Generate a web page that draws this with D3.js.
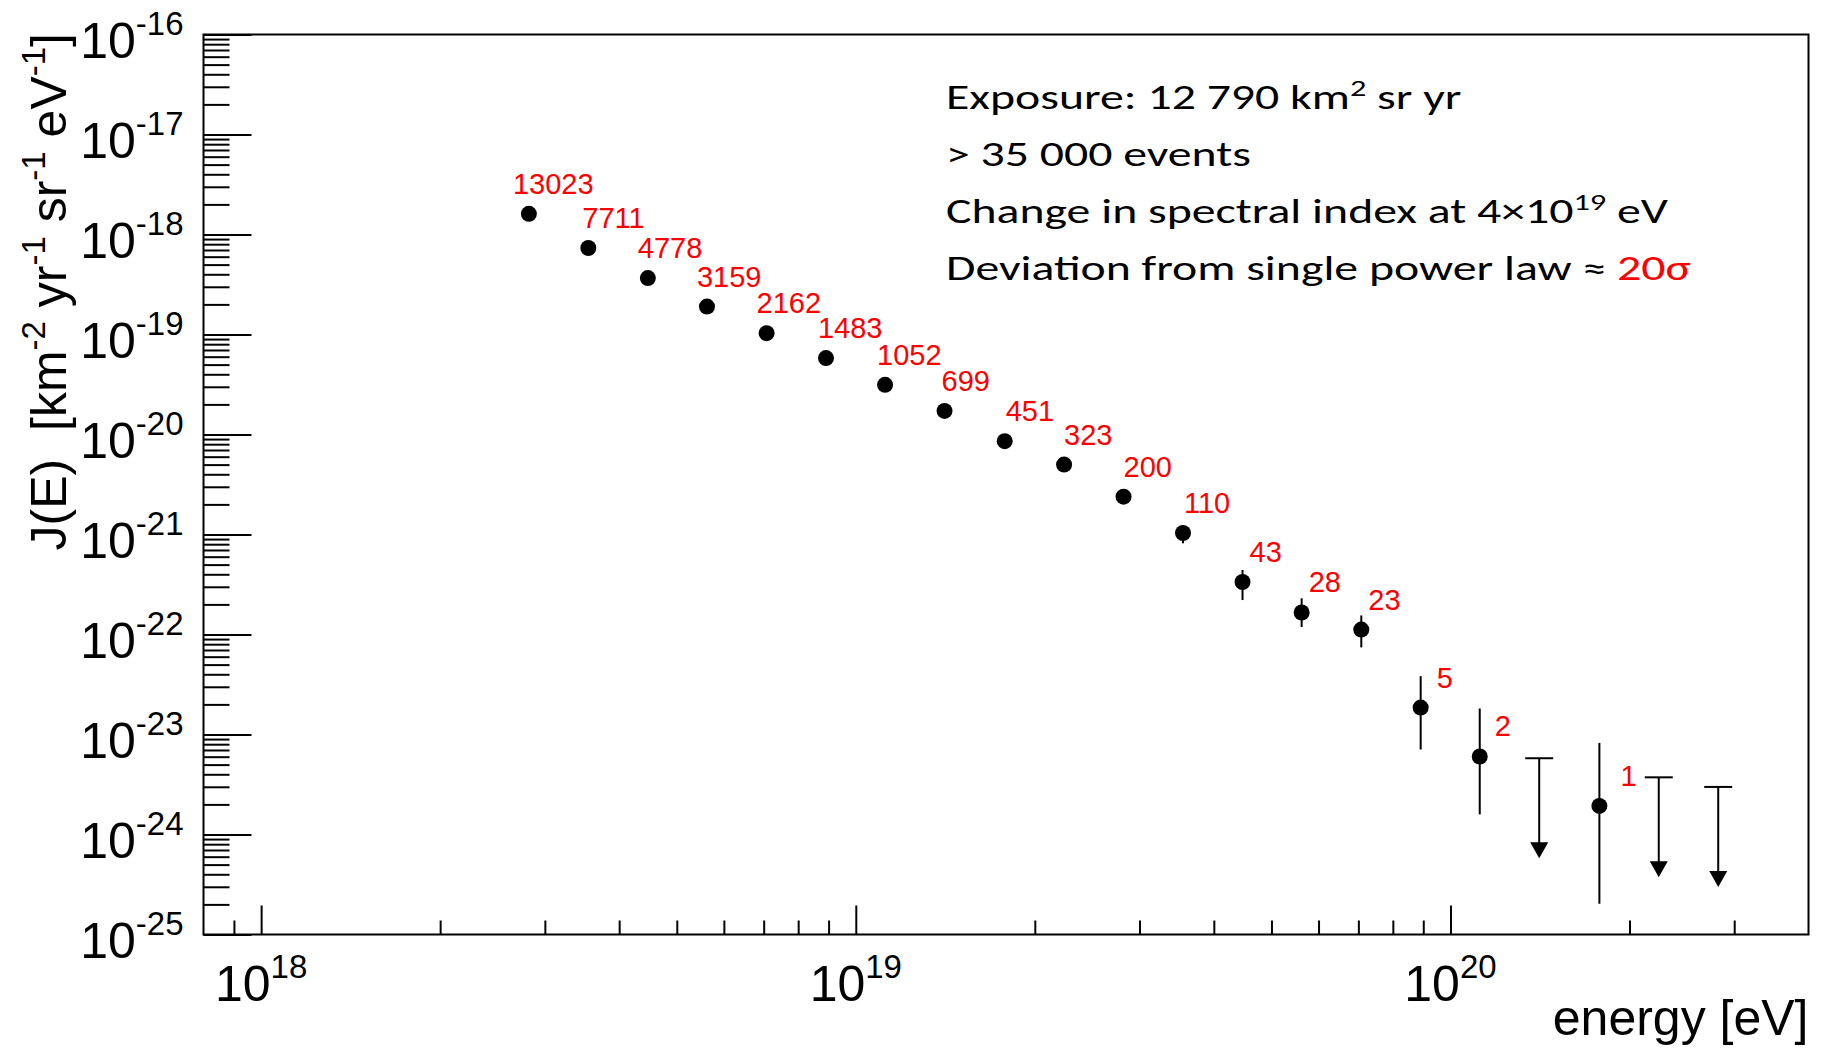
<!DOCTYPE html>
<html>
<head>
<meta charset="utf-8">
<script src="https://d3js.org/d3.v7.min.js"></script>
<style>
  body { margin: 0; background: #fff; }
  text { font-family: "Liberation Sans", Arial, Helvetica, sans-serif; }
</style>
</head>
<body>
<div id="chart"></div>
<script>

// bin centres of the energy spectrum (eV)
const energy = [2.82e18, 3.55e18, 4.47e18, 5.62e18, 7.08e18, 8.91e18, 1.12e19,
                1.41e19, 1.78e19, 2.24e19, 2.82e19, 3.55e19, 4.47e19, 5.62e19,
                7.08e19, 8.91e19, 1.12e20, 1.41e20, 1.78e20, 2.24e20, 2.82e20];

// flux J(E) in km^-2 yr^-1 sr^-1 eV^-1 (upper limit value for the limit bins)
const flux = [1.61e-18, 7.33e-19, 3.67e-19, 1.90e-19, 1.03e-19, 5.81e-20, 3.14e-20,
              1.72e-20, 8.57e-21, 5.00e-21, 2.39e-21, 1.035e-21, 3.35e-22, 1.66e-22,
              1.12e-22, 1.86e-23, 6.03e-24, 5.79e-24, 1.93e-24, 3.73e-24, 2.99e-24];

// error bar ends (null where the bar hides behind the marker)
const fluxLo = [null, null, null, null, null, null, null, null, null, null, null,
                8.17e-22, 2.21e-22, 1.19e-22, 7.43e-23, 7.08e-24, 1.59e-24, null, 2.03e-25, null, null];
const fluxHi = [null, null, null, null, null, null, null, null, null, null, null,
                1.225e-21, 4.42e-22, 2.30e-22, 1.55e-22, 3.83e-23, 1.82e-23, null, 8.24e-24, null, null];

const upperLimit = [false, false, false, false, false, false, false, false, false, false, false,
                    false, false, false, false, false, false, true, false, true, true];

// number of events per bin
const events = ["13023", "7711", "4778", "3159", "2162", "1483", "1052", "699", "451", "323",
                "200", "110", "43", "28", "23", "5", "2", "", "1", "", ""];

const yDecades = [-16, -17, -18, -19, -20, -21, -22, -23, -24, -25];
const xDecades = [18, 19, 20];

const noteLines = [
  [["Exposure: 12 790 km", ""], ["2", "sup"], [" sr yr", ""]],
  [["> 35 000 events", ""]],
  [["Change in spectral index at 4\u00d710", ""], ["19", "sup"], [" eV", ""]],
  [["Deviation from single power law \u2248 ", ""], ["20\u03c3", "red"]]
];

// horizontal nudge of each event count label (px)
const labelNudge = [-16, -6, -10, -10, -10, -8, -8, -3, 1, 0, 0, 1, 7, 7, 7, 16, 15, 0, 21, 0, 0];

const W = 1824, H = 1048;
const margin = {top: 34.5, right: 15.5, bottom: 113.5, left: 203.5},
    width = W - margin.left - margin.right,
    height = H - margin.top - margin.bottom;

const svg = d3.select("#chart")
  .append("svg")
    .attr("width", W)
    .attr("height", H);

svg.append("rect").attr("width", W).attr("height", H).attr("fill", "#fff");

const g = svg.append("g")
    .attr("transform", `translate(${margin.left},${margin.top})`);

const x = d3.scaleLog().domain([8e17, 4e20]).range([0, width]);
const y = d3.scaleLog().domain([1e-25, 1e-16]).range([height, 0]);

// minor ticks 2..9 in every decade, kept strictly inside the frame
function minorTicks(scale, k0, k1) {
  const out = [];
  const [d0, d1] = scale.domain();
  d3.range(k0, k1).forEach(k => d3.range(2, 10).forEach(m => {
    const v = m * Math.pow(10, k);
    if (v > d0 * 1.0001 && v < d1 * 0.9999) out.push(v);
  }));
  return out;
}

function styleAxis(sel) {
  sel.select(".domain").remove();
  sel.selectAll(".tick line").attr("stroke", "#000").attr("stroke-width", 2);
}

// Y axis: ticks point into the frame
g.append("g")
  .call(d3.axisLeft(y).tickValues(minorTicks(y, -25, -16)).tickSize(-26).tickFormat(""))
  .call(styleAxis);
g.append("g")
  .call(d3.axisLeft(y).tickValues(yDecades.map(e => Math.pow(10, e))).tickSize(-48).tickFormat(""))
  .call(styleAxis);

// X axis
g.append("g")
  .attr("transform", `translate(0,${height})`)
  .call(d3.axisBottom(x).tickValues(minorTicks(x, 17, 21)).tickSize(-14).tickFormat(""))
  .call(styleAxis);
g.append("g")
  .attr("transform", `translate(0,${height})`)
  .call(d3.axisBottom(x).tickValues(xDecades.map(e => Math.pow(10, e))).tickSize(-29).tickFormat(""))
  .call(styleAxis);

// frame
g.append("rect")
  .attr("width", width)
  .attr("height", height)
  .attr("fill", "none")
  .attr("stroke", "#000")
  .attr("stroke-width", 2);

// tick labels 10^n
yDecades.forEach(e => {
  const t = g.append("text")
    .attr("x", -20)
    .attr("y", y(Math.pow(10, e)) + 23)
    .attr("text-anchor", "end")
    .attr("font-size", 50);
  t.append("tspan").text("10");
  t.append("tspan").attr("dy", -23).attr("font-size", 33).text("-" + Math.abs(e));
});

xDecades.forEach(e => {
  const t = g.append("text")
    .attr("x", x(Math.pow(10, e)))
    .attr("y", height + 66)
    .attr("text-anchor", "middle")
    .attr("font-size", 50);
  t.append("tspan").text("10");
  t.append("tspan").attr("dy", -23).attr("font-size", 33).text(e);
});

// axis titles
svg.append("text")
  .attr("x", W - margin.right)
  .attr("y", 1035)
  .attr("text-anchor", "end")
  .attr("font-size", 50)
  .text("energy [eV]");

const yTitle = svg.append("text")
  .attr("transform", "translate(66,33) rotate(-90)")
  .attr("text-anchor", "end")
  .attr("font-size", 50)
  .style("white-space", "pre");
[["J(E)  [km", 0], ["-2", 1], [" yr", 0], ["-1", 1], [" sr", 0], ["-1", 1], [" eV", 0], ["-1", 1], ["]", 0]]
  .forEach(([s, sup], i, arr) => {
    const prev = i > 0 ? arr[i - 1][1] : 0;
    yTitle.append("tspan")
      .attr("dy", sup && !prev ? -21 : (!sup && prev ? 21 : 0))
      .attr("font-size", sup ? 33 : 50)
      .text(s);
  });

// error bars
const bars = d3.range(energy.length).filter(i => fluxLo[i] !== null && !upperLimit[i]);
g.selectAll(".err")
  .data(bars)
  .join("line")
    .attr("x1", i => x(energy[i]))
    .attr("x2", i => x(energy[i]))
    .attr("y1", i => y(fluxHi[i]))
    .attr("y2", i => y(fluxLo[i]))
    .attr("stroke", "#000")
    .attr("stroke-width", 2);

// upper limits: cap + downward arrow
const arrowLen = 100;
const limits = d3.range(energy.length).filter(i => upperLimit[i]);
const lim = g.selectAll(".lim").data(limits).join("g");
lim.append("line")
  .attr("x1", i => x(energy[i])).attr("x2", i => x(energy[i]))
  .attr("y1", i => y(flux[i])).attr("y2", i => y(flux[i]) + arrowLen - 10)
  .attr("stroke", "#000").attr("stroke-width", 2);
lim.append("line")
  .attr("x1", i => x(energy[i]) - 14).attr("x2", i => x(energy[i]) + 14)
  .attr("y1", i => y(flux[i])).attr("y2", i => y(flux[i]))
  .attr("stroke", "#000").attr("stroke-width", 2);
lim.append("path")
  .attr("d", i => {
    const cx = x(energy[i]), tip = y(flux[i]) + arrowLen;
    return `M${cx - 9},${tip - 16}L${cx + 9},${tip - 16}L${cx},${tip}Z`;
  })
  .attr("fill", "#000");

// markers
const pts = d3.range(energy.length).filter(i => !upperLimit[i]);
g.selectAll(".dot")
  .data(pts)
  .join("circle")
    .attr("cx", i => x(energy[i]))
    .attr("cy", i => y(flux[i]))
    .attr("r", 8)
    .attr("fill", "#000");

// event counts
g.selectAll(".cnt")
  .data(pts)
  .join("text")
    .attr("x", i => x(energy[i]) + labelNudge[i])
    .attr("y", i => y(flux[i]) - 20)
    .attr("font-size", 29)
    .attr("fill", "#ff0000")
    .text(i => events[i]);

// annotation block
const note = svg.append("g").attr("class", "note");
noteLines.forEach((segs, li) => {
  const t = note.append("text")
    .attr("x", 0)
    .attr("y", li * 57)
    .attr("font-size", 34)
    .style("font-family", "Carlito, Calibri, Lato, sans-serif")
    .style("white-space", "pre");
  let up = false;
  segs.forEach(([s, kind]) => {
    const sp = t.append("tspan").text(s);
    if (kind === "sup") { sp.attr("font-size", 23).attr("dy", -13); up = true; }
    else if (up) { sp.attr("dy", 13); up = false; }
    if (kind === "red") sp.attr("fill", "#ff0000");
  });
});
const widest = d3.max(note.selectAll("text").nodes(), n => n.getComputedTextLength());
const sx = 745 / widest;
note.attr("transform", `translate(946,109) scale(${sx},1)`);

</script>
</body>
</html>
